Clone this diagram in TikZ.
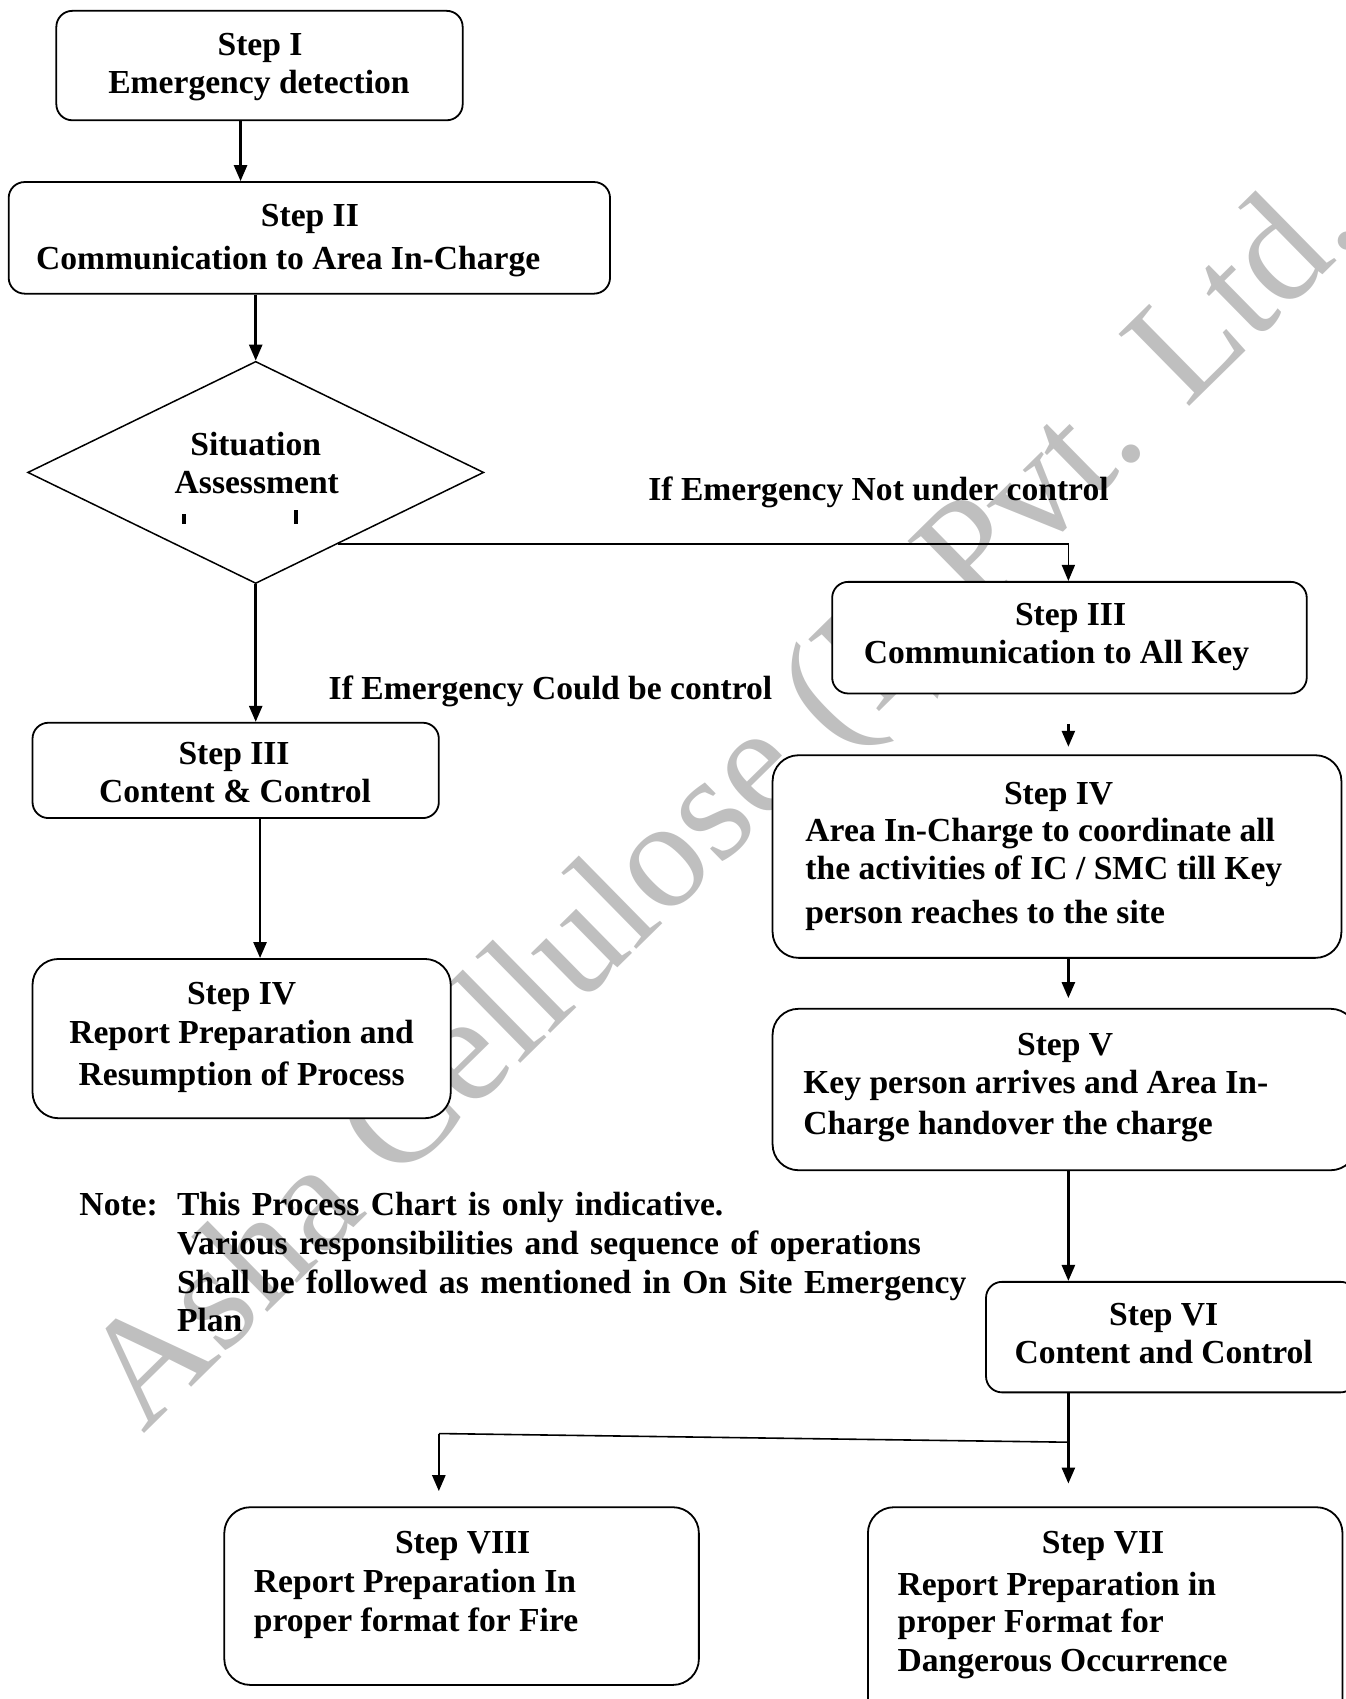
\documentclass[tikz,border=0pt]{standalone}
\usepackage{fontspec}
\setmainfont{Liberation Serif}
\usetikzlibrary{arrows.meta,fit,calc,shapes.geometric}
% bold chart lettering; the note uses slightly wider word spaces
\newcommand\chartfont{\fontsize{16.8}{20}\selectfont\bfseries}
\newcommand\notefont{\chartfont\spaceskip=0.34em plus 0.1em\relax}

\begin{document}
\begin{tikzpicture}[x=0.5419pt,y=-0.5419pt,
  box/.style={draw,line width=0.9pt,rounded corners=8pt,fill=white,inner sep=0pt},
  bigbox/.style={box,rounded corners=13pt},
  txt/.style={font=\chartfont,inner sep=0pt,anchor=base},
  ltxt/.style={txt,anchor=base west},
  notetxt/.style={ltxt,font=\notefont},
  arr/.style={line width=1.3pt,-{Triangle[length=8pt,width=6.5pt]}},
  link/.style={line width=0.8pt},
  wmark/.style={font=\fontsize{77}{77}\selectfont,text=black!25,inner sep=0pt}
]
\useasboundingbox (0,0) rectangle (1242,1568);
\clip (0,0) rectangle (1242,1568);

% company watermark behind the chart
\node[wmark,rotate=44.5,anchor=base west] (wm) at (132,1324) {Asha Cellulose (I) Pvt. Ltd.};

% boxes
\node[box,fit={(52,10) (427,111)}] (s1) {};
\node[box,fit={(8,168) (563,271)}] (s2) {};
\node[diamond,draw,fill=white,line width=0.75pt,inner sep=0pt,aspect=2.05,
      minimum width=228.1pt,minimum height=111.1pt] (d) at (236,436) {};
\node[box,fit={(768,537) (1206,640)}] (s3r) {};
\node[bigbox,fit={(713,697) (1238,884)}] (s4r) {};
\node[bigbox,fit={(713,931) (1252,1080)}] (s5) {};
\node[box,fit={(910,1183) (1252,1285)}] (s6) {};
\node[box,fit={(30,667) (405,755)}] (s3l) {};
\node[bigbox,fit={(30,885) (416,1032)}] (s4l) {};
\node[bigbox,fit={(207,1391) (645,1555)}] (s8) {};
\node[bigbox,fit={(801,1391) (1239,1600)}] (s7) {};

% connectors
\coordinate (xa) at (222,0);
\coordinate (xl) at (240,0);
\coordinate (xr) at (986,0);
\draw[arr] (s1.south -| xa) -- (s2.north -| xa);
\draw[arr] (s2.south -| d.north) -- (d.north);
\draw[arr] (d.south) -- (s3l.north -| d.south);
\coordinate (dn) at ($(d.south)!0.36!(d.east)$);
\draw[arr,line width=0.8pt] (dn) -- (dn -| xr) -- (s3r.north -| xr);
\coordinate (a4) at (986,668);
\draw[arr] (a4) -- ($(s4r.north -| xr)+(0,-7)$);
\draw[arr] (s4r.south -| xr) -- ($(s5.north -| xr)+(0,-9)$);
\draw[arr] (s5.south -| xr) -- (s6.north -| xr);
\draw[arr] (s6.south -| xr) -- ($(s7.north -| xr)+(0,-21)$);
\coordinate (jr) at (986,1331);
\coordinate (jl) at (405,1323);
\draw[link] (jr) -- (jl);
\draw[arr] (jl) -- ($(s8.north -| jl)+(0,-14)$);
\draw[arr] (s3l.south -| xl) -- (s4l.north -| xl);

% texts
\node[txt] (t1a) at (240,51) {Step I};
\node[txt] (t1b) at (239,86) {Emergency detection};
\node[txt] (t2a) at (286,209) {Step II};
\node[txt] (t2b) at (266,249) {Communication to Area In-Charge};
\node[txt] (tda) at (236,420) {Situation};
\node[txt] (tdb) at (237,455) {Assessment};
% ascender tops of the clipped third line
\fill (168,474) rectangle (172,484);
\fill (271,471) rectangle (275,484);
\node[ltxt] (lno) at (598,462) {If Emergency Not under control};
\node[ltxt] (lyes) at (303,646) {If Emergency Could be control};
\node[txt] (t3ra) at (988,577) {Step III};
\node[txt] (t3rb) at (975,612) {Communication to All Key};
\node[txt] (t3la) at (216,706) {Step III};
\node[txt] (t3lb) at (217,741) {Content \& Control};
\node[txt] (t4ra) at (977,742) {Step IV};
\node[ltxt] (t4rb) at (743,777) {Area In-Charge to coordinate all};
\node[ltxt] (t4rc) at (743,812) {the activities of IC / SMC till Key};
\node[ltxt] (t4rd) at (743,852) {person reaches to the site};
\node[txt] (t4la) at (223,927) {Step IV};
\node[txt] (t4lb) at (223,963) {Report Preparation and};
\node[txt] (t4lc) at (223,1002) {Resumption of Process};
\node[txt] (t5a) at (983,974) {Step V};
\node[ltxt] (t5b) at (741,1009) {Key person arrives and Area In-};
\node[ltxt] (t5c) at (741,1047) {Charge handover the charge};
\node[notetxt] (nt0) at (73,1122) {Note:};
\node[notetxt] (nt1) at (163,1122) {This Process Chart is only indicative.};
\node[notetxt] (nt2) at (163,1158) {Various responsibilities and sequence of operations};
\node[notetxt] (nt3) at (163,1194) {Shall be followed as mentioned in On Site Emergency};
\node[notetxt] (nt4) at (163,1229) {Plan};
\node[txt] (t6a) at (1074,1223) {Step VI};
\node[txt] (t6b) at (1074,1258) {Content and Control};
\node[txt] (t8a) at (427,1434) {Step VIII};
\node[ltxt] (t8b) at (234,1470) {Report Preparation In};
\node[ltxt] (t8c) at (234,1506) {proper format for Fire};
\node[txt] (t7a) at (1018,1434) {Step VII};
\node[ltxt] (t7b) at (828,1472) {Report Preparation in};
\node[ltxt] (t7c) at (828,1507) {proper Format for};
\node[ltxt] (t7d) at (828,1543) {Dangerous Occurrence};
\end{tikzpicture}
\end{document}
